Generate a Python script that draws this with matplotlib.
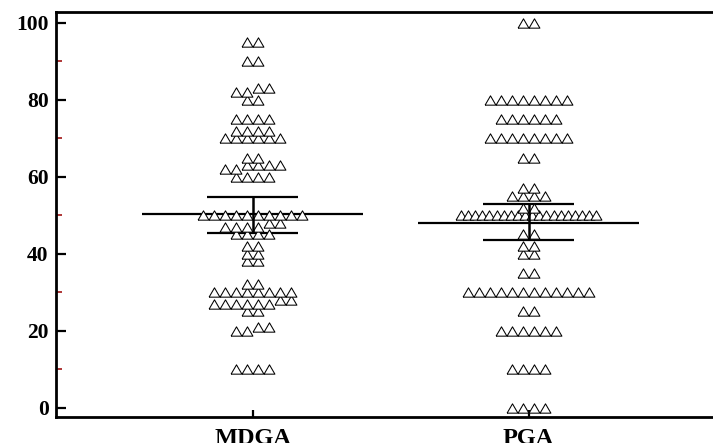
import matplotlib
matplotlib.use("Agg")
from matplotlib import pyplot as plt
import numpy as np

# groups on the x axis
groups = ["MDGA", "PGA"]

# distinct score values and how many patients sit on each one
mdga_values = [95, 90, 83, 82, 80, 75, 72, 70, 65, 63, 62, 60, 50, 48, 47, 45,
               42, 40, 38, 32, 30, 28, 27, 25, 21, 20, 10]
mdga_counts = [2, 2, 2, 2, 2, 4, 4, 6, 2, 4, 2, 4, 10, 2, 4, 4,
               2, 2, 2, 2, 8, 2, 6, 2, 2, 2, 4]

pga_values = [100, 80, 75, 70, 65, 57, 55, 52, 50, 45, 42, 40, 35, 30, 25, 20, 10, 0]
pga_counts = [2, 8, 6, 8, 2, 2, 4, 2, 20, 2, 2, 2, 2, 12, 2, 6, 4, 4]

# mean and confidence limits
means = [50.4, 48.0]
ci_low = [45.5, 43.5]
ci_high = [54.8, 52.8]

yticks = [0, 20, 40, 60, 80, 100]
yminor = [10, 30, 50, 70, 90]


def swarm_rows(values, counts, center, step=0.04, max_span=0.49):
    # values one unit apart share a row, lower value on the left
    order = np.argsort(values)
    vals = [values[i] for i in order]
    cnts = [counts[i] for i in order]
    rows = []
    for v, c in zip(vals, cnts):
        if rows and v - rows[-1][-1] <= 1:
            rows[-1].extend([v] * c)
        else:
            rows.append([v] * c)
    xs, ys = [], []
    for row in rows:
        n = len(row)
        s = step if n < 2 else min(step, max_span / (n - 1))
        offs = (np.arange(n) - (n - 1) / 2) * s
        xs.extend(center + offs)
        ys.extend(row)
    return np.array(xs), np.array(ys)


plt.rcParams["font.family"] = "Liberation Serif"
plt.rcParams["font.weight"] = "bold"

fig = plt.figure(figsize=(7.13, 4.43), dpi=100)
W, H = 713, 443
ax = fig.add_axes([55.5 / W, 1 - 416.5 / H, (W - 55.5) / W, (416.5 - 12) / H])

tri = [(-0.5, -0.43), (0.5, -0.43), (0, 0.43), (-0.5, -0.43)]

data = [(mdga_values, mdga_counts), (pga_values, pga_counts)]
for i, (vals, cnts) in enumerate(data):
    c = i + 1
    xs, ys = swarm_rows(vals, cnts, c)
    ax.hlines(means[i], c - 0.4, c + 0.4, color="black", lw=1.6, zorder=1)
    ax.hlines([ci_low[i], ci_high[i]], c - 0.165, c + 0.165, color="black", lw=1.6, zorder=1)
    ax.plot(xs, ys, ls="none", marker=tri, ms=7.8, mfc="white", mec="black",
            mew=0.75, zorder=2)
    ax.vlines(c, ci_low[i], ci_high[i], color="black", lw=1.8, zorder=3)

ax.set_xlim(0.286, 2.668)
ax.set_ylim(-2.34, 102.86)
ax.set_xticks([1, 2])
ax.set_xticklabels(groups)
ax.set_yticks(yticks)
ax.set_yticks(yminor, minor=True)

ax.spines["right"].set_visible(False)
for side in ["left", "top", "bottom"]:
    ax.spines[side].set_linewidth(2.0)

ax.tick_params(axis="y", which="major", direction="in", length=7.5, width=1.6,
               labelsize=15.5, pad=5)
ax.tick_params(axis="y", which="minor", direction="in", length=4, width=1.1,
               color="#990000")
ax.tick_params(axis="x", which="major", direction="in", length=5, width=1.6,
               labelsize=17.5, pad=8)
ax.tick_params(axis="x", which="minor", bottom=False)

plt.savefig("out.png", dpi=100)
